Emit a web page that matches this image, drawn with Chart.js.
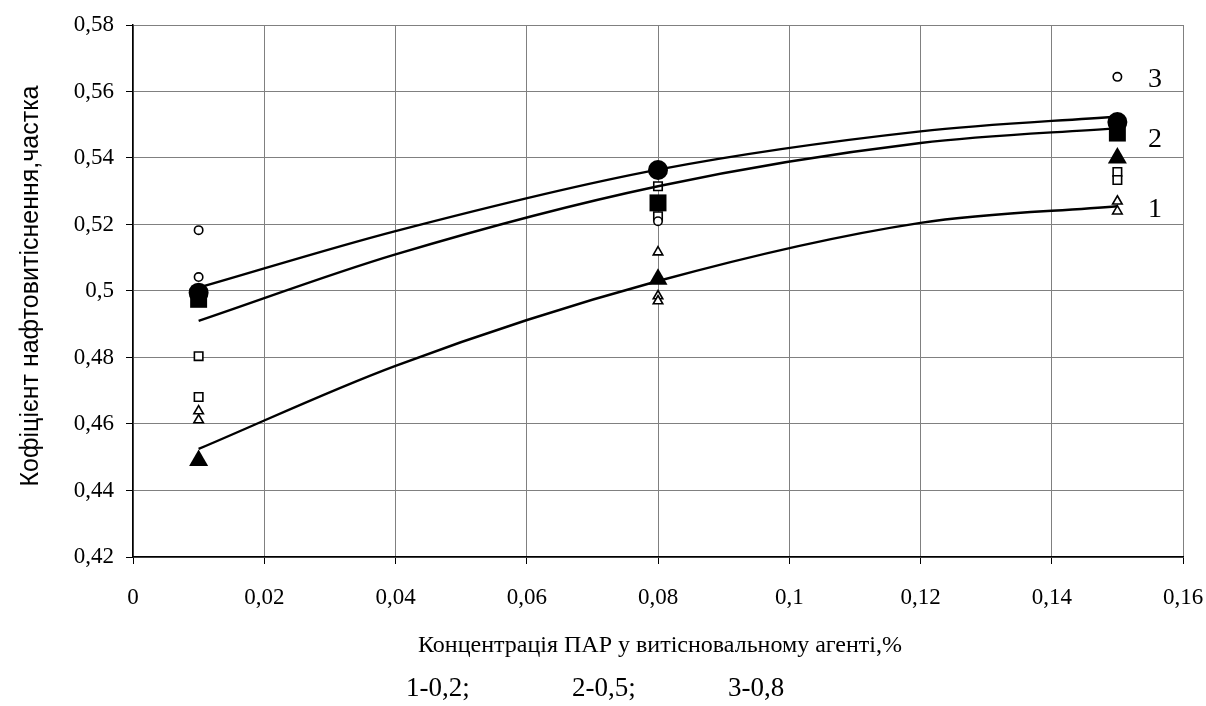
<!DOCTYPE html>
<html>
<head>
<meta charset="utf-8">
<script src="https://cdn.jsdelivr.net/npm/chart.js@4"></script>
<style>
  html, body { margin: 0; padding: 0; background: #fff; }
  #wrap { width: 1206px; height: 706px; }
</style>
</head>
<body>
<div id="wrap"><canvas id="chart" width="1206" height="706"></canvas></div>
<script>
// Коефіцієнт нафтовитіснення vs концентрація ПАР

const xTicks = [0, 0.02, 0.04, 0.06, 0.08, 0.1, 0.12, 0.14, 0.16];
const yTicks = [0.42, 0.44, 0.46, 0.48, 0.5, 0.52, 0.54, 0.56, 0.58];

// trend lines
const trendX = [0.01, 0.04, 0.08, 0.12, 0.15];
const trend1 = [0.4525, 0.4775, 0.503, 0.5205, 0.5255];
const trend2 = [0.491, 0.511, 0.5315, 0.5445, 0.549];
const trend3 = [0.501, 0.518, 0.5365, 0.548, 0.5525];

// mean values (filled markers)
const meanX = [0.01, 0.08, 0.15];
const mean1 = [0.449, 0.5035, 0.540];
const mean2 = [0.4975, 0.5265, 0.5475];
const mean3 = [0.4995, 0.5364, 0.5508];

// single measurements (open markers)
const obs1X = [0.01, 0.01, 0.08, 0.08, 0.08, 0.15, 0.15];
const obs1 = [0.4639, 0.4612, 0.5117, 0.4985, 0.497, 0.527, 0.524];
const obs2X = [0.01, 0.01, 0.08, 0.08, 0.15, 0.15];
const obs2 = [0.4804, 0.4681, 0.5315, 0.5225, 0.5358, 0.5334];
const obs3X = [0.01, 0.01, 0.08, 0.15];
const obs3 = [0.5183, 0.5042, 0.521, 0.5644];

const curveLabels = ['1', '2', '3'];
const legendParts = ['1-0,2;', '2-0,5;', '3-0,8'];
const xTitle = 'Концентрація ПАР у витісновальному агенті,%';
const yTitle = 'Кофіцієнт нафтовитіснення,частка';

const SERIF = '"Liberation Serif", "DejaVu Serif", serif';
const SANS = '"Liberation Sans", Arial, sans-serif';

const pts = (xs, ys) => xs.map((x, i) => ({ x: x, y: ys[i] }));
const fmt = v => Number(v.toFixed(2)).toString().replace('.', ',');

function meanSet(data, style, r) {
  return {
    type: 'scatter', data: data, pointStyle: style, pointRadius: r, pointHoverRadius: r,
    backgroundColor: '#000', borderColor: '#000', borderWidth: 0, showLine: false,
  };
}
function obsSet(data, style, r) {
  return {
    type: 'scatter', data: data, pointStyle: style, pointRadius: r, pointHoverRadius: r,
    backgroundColor: '#fff', borderColor: '#000', borderWidth: 1.6, showLine: false,
  };
}
function trendSet(data) {
  return {
    type: 'line', data: data, borderColor: '#000', borderWidth: 2.4, pointRadius: 0,
    cubicInterpolationMode: 'monotone', fill: false,
  };
}

// free text: curve numbers, axis titles, legend line
const textPlugin = {
  id: 'texts',
  afterDraw(chart) {
    const { ctx } = chart;
    const ys = chart.scales.y;
    ctx.save();
    ctx.fillStyle = '#000';
    ctx.textBaseline = 'middle';

    ctx.font = '28px ' + SERIF;
    ctx.textAlign = 'left';
    const lblY = [0.5245, 0.5455, 0.5635];
    curveLabels.forEach((t, i) => ctx.fillText(t, 1148, ys.getPixelForValue(lblY[i])));

    ctx.font = '24px ' + SERIF;
    ctx.textAlign = 'center';
    ctx.fillText(xTitle, 660, 646);

    ctx.font = '27px ' + SERIF;
    ctx.textAlign = 'left';
    const lx = [406, 572, 728];
    legendParts.forEach((t, i) => ctx.fillText(t, lx[i], 689));

    ctx.translate(31, 286);
    ctx.rotate(-Math.PI / 2);
    ctx.font = '25px ' + SANS;
    ctx.textAlign = 'center';
    ctx.fillText(yTitle, 0, 0);
    ctx.restore();
  },
};

new Chart(document.getElementById('chart'), {
  data: {
    datasets: [
      meanSet(pts(meanX, mean3), 'circle', 10),
      meanSet(pts(meanX, mean2), 'rect', 12),
      meanSet(pts(meanX, mean1), 'triangle', 11),
      trendSet(pts(trendX, trend3)),
      trendSet(pts(trendX, trend2)),
      trendSet(pts(trendX, trend1)),
      obsSet(pts(obs3X, obs3), 'circle', 4.2),
      obsSet(pts(obs2X, obs2), 'rect', 6),
      obsSet(pts(obs1X, obs1), 'triangle', 5.5),
    ],
  },
  options: {
    responsive: false,
    animation: false,
    events: [],
    layout: { padding: { left: 0, right: 23, top: 25, bottom: 0 } },
    plugins: { legend: { display: false }, tooltip: { enabled: false } },
    scales: {
      x: {
        type: 'linear', min: 0, max: 0.16,
        afterBuildTicks: s => { s.ticks = xTicks.map(v => ({ value: v })); },
        afterFit: s => { s.height = 149; s.paddingLeft = 0; s.paddingRight = 0; },
        ticks: { callback: fmt, color: '#000', padding: 20, maxRotation: 0, font: { family: SERIF, size: 23 } },
        grid: { color: '#808080', lineWidth: 1, tickLength: 7, tickColor: '#000' },
        border: { color: '#000', width: 1.5 },
      },
      y: {
        type: 'linear', min: 0.42, max: 0.58,
        afterBuildTicks: s => { s.ticks = yTicks.map(v => ({ value: v })); },
        afterFit: s => { s.width = 133; s.paddingTop = 0; s.paddingBottom = 0; },
        ticks: { callback: fmt, color: '#000', padding: 12, font: { family: SERIF, size: 23 } },
        grid: { color: '#808080', lineWidth: 1, tickLength: 7, tickColor: '#000' },
        border: { color: '#000', width: 1.5 },
      },
    },
  },
  plugins: [textPlugin],
});
</script>
</body>
</html>
